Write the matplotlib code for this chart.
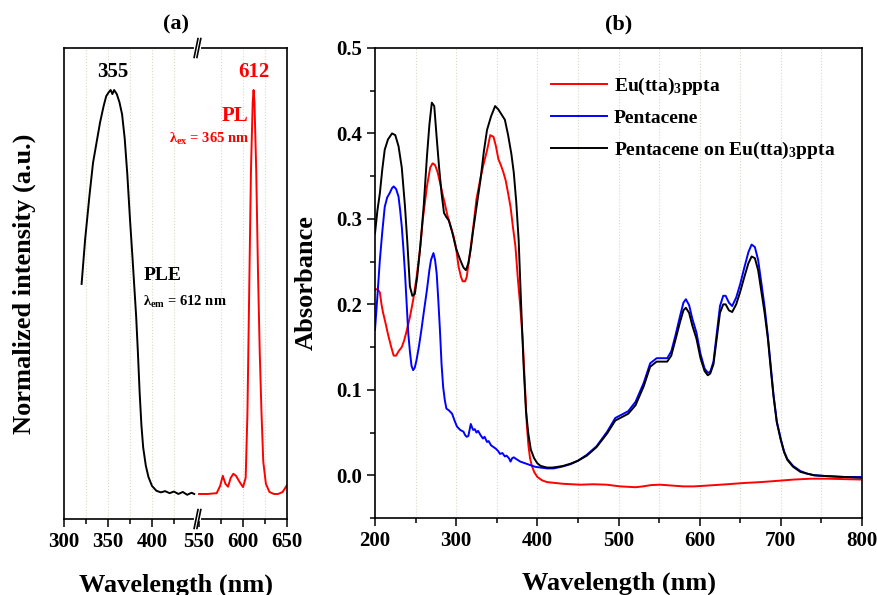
import numpy as np
import matplotlib
matplotlib.use('Agg')
import matplotlib.pyplot as plt
import matplotlib.transforms as mtransforms

plt.rcParams['font.family'] = ['Liberation Serif', 'DejaVu Serif']
plt.rcParams['font.weight'] = 'bold'
plt.rcParams['axes.labelweight'] = 'bold'
plt.rcParams['axes.titleweight'] = 'bold'
plt.rcParams['mathtext.fontset'] = 'custom'
plt.rcParams['mathtext.rm'] = 'Liberation Serif:bold'
plt.rcParams['mathtext.it'] = 'Liberation Serif:bold'
plt.rcParams['mathtext.bf'] = 'Liberation Serif:bold'
plt.rcParams['mathtext.default'] = 'bf'

# ---- (a) PLE / PL (normalized) ----
ple_wl = [320, 324, 329, 333, 337, 341, 345, 348, 351, 353, 355, 357, 360, 363,
          366, 369, 372, 375, 378, 380, 382, 384, 386, 388, 390, 393, 396, 400,
          405, 410, 415, 420, 425, 430, 435, 440, 445, 448]
ple_int = [0.52, 0.63, 0.74, 0.82, 0.87, 0.92, 0.96, 0.985, 0.995, 1.0, 0.99, 1.0,
           0.99, 0.97, 0.94, 0.88, 0.79, 0.68, 0.58, 0.51, 0.44, 0.35, 0.25, 0.17,
           0.115, 0.07, 0.042, 0.02, 0.008, 0.004, 0.007, 0.002, 0.006, 0.0,
           0.005, -0.002, 0.003, 0.0]

pl_wl = [550, 560, 570, 574, 577, 580, 583, 586, 589, 592, 596, 600, 603, 605,
         607, 609, 611, 612, 613, 615, 617, 619, 621, 623, 626, 630, 635, 640,
         645, 650]
pl_int = [0.0, 0.0, 0.002, 0.02, 0.045, 0.025, 0.018, 0.04, 0.05, 0.045, 0.03,
          0.017, 0.04, 0.2, 0.5, 0.8, 0.97, 1.0, 0.97, 0.8, 0.55, 0.35, 0.2,
          0.08, 0.025, 0.005, 0.0, 0.0, 0.005, 0.022]

a_ticks = [300, 350, 400, 550, 600, 650]
a_minor = [325, 375, 425, 575, 625]
break_gap = 96.5  # axis break 450 -> 550

# ---- (b) absorbance ----
blk_wl = [200, 203, 206, 209, 212, 216, 221, 225, 229, 233, 237, 240, 243, 246,
          249, 252, 256, 260, 264, 267, 270, 273, 276, 279, 282, 285, 288, 291,
          295, 300, 305, 309, 312, 315, 318, 321, 326, 330, 334, 338, 343, 348,
          352, 356, 360, 364, 368, 371, 374, 377, 380, 383, 386, 389, 392, 396,
          400, 404, 408, 412, 418, 424, 432, 441, 450, 461, 473, 486, 496, 504,
          512, 521, 531, 539, 547, 555, 560, 565, 570, 576, 580, 583, 587, 591,
          596, 601, 606, 610, 613, 617, 621, 625, 629, 632, 636, 640, 645, 650,
          655, 660, 664, 668, 672, 676, 680, 684, 688, 691, 695, 700, 704, 708,
          715, 724, 732, 741, 757, 778, 800]
blk_abs = [0.283, 0.31, 0.33, 0.358, 0.381, 0.393, 0.40, 0.398, 0.385, 0.36,
           0.314, 0.27, 0.221, 0.21, 0.212, 0.232, 0.27, 0.315, 0.373, 0.41,
           0.436, 0.432, 0.395, 0.36, 0.33, 0.307, 0.302, 0.298, 0.285, 0.265,
           0.252, 0.243, 0.24, 0.248, 0.265, 0.287, 0.32, 0.346, 0.378, 0.404,
           0.42, 0.432, 0.428, 0.422, 0.416, 0.398, 0.376, 0.354, 0.32, 0.275,
           0.2, 0.13, 0.075, 0.048, 0.03, 0.02, 0.014, 0.011, 0.01, 0.009, 0.009,
           0.0097, 0.011, 0.0136, 0.017, 0.023, 0.033, 0.049, 0.064, 0.068,
           0.072, 0.082, 0.104, 0.127, 0.133, 0.133, 0.133, 0.14, 0.158, 0.18,
           0.193, 0.196, 0.19, 0.175, 0.16, 0.137, 0.122, 0.117, 0.119, 0.13,
           0.16, 0.19, 0.2, 0.2, 0.193, 0.191, 0.2, 0.215, 0.232, 0.248, 0.256,
           0.254, 0.24, 0.215, 0.19, 0.16, 0.12, 0.092, 0.062, 0.041, 0.027,
           0.018, 0.01, 0.004, 0.002, 0.0, -0.001, -0.002, -0.003]

blu_wl = [200, 203, 206, 209, 212, 215, 218, 221, 223, 226, 229, 231, 233, 235,
          237, 239, 241, 243, 245, 247, 249, 251, 254, 257, 260, 264, 267, 269,
          272, 274, 276, 278, 280, 282, 284, 286, 288, 291, 295, 298, 301, 305,
          309, 311, 313, 315, 317, 318, 320, 321, 323, 325, 327, 330, 333, 335,
          338, 340, 343, 346, 349, 352, 354, 357, 360, 362, 365, 367, 369, 371,
          374, 379, 385, 391, 397, 404, 412, 420, 430, 441, 450, 461, 473, 486,
          496, 504, 512, 521, 531, 539, 547, 555, 560, 565, 570, 576, 580, 583,
          587, 591, 596, 601, 606, 610, 613, 617, 621, 625, 629, 632, 636, 640,
          645, 650, 655, 660, 664, 668, 672, 676, 680, 684, 688, 691, 695, 700,
          704, 708, 715, 724, 732, 741, 757, 778, 800]
blu_abs = [0.17, 0.21, 0.252, 0.285, 0.314, 0.325, 0.33, 0.336, 0.338, 0.335,
           0.326, 0.31, 0.291, 0.265, 0.236, 0.2, 0.166, 0.145, 0.128, 0.123,
           0.126, 0.134, 0.15, 0.169, 0.19, 0.217, 0.24, 0.252, 0.26, 0.252,
           0.236, 0.205, 0.17, 0.13, 0.103, 0.088, 0.078, 0.076, 0.072, 0.064,
           0.057, 0.053, 0.051, 0.047, 0.045, 0.046, 0.055, 0.06, 0.055, 0.053,
           0.054, 0.05, 0.052, 0.047, 0.043, 0.045, 0.039, 0.04, 0.035, 0.033,
           0.031, 0.028, 0.025, 0.026, 0.022, 0.023, 0.02, 0.016, 0.02, 0.021,
           0.019, 0.016, 0.014, 0.012, 0.01, 0.009, 0.008, 0.008, 0.01, 0.013,
           0.017, 0.024, 0.034, 0.051, 0.067, 0.071, 0.075, 0.086, 0.108, 0.131,
           0.137, 0.137, 0.137, 0.145, 0.163, 0.187, 0.202, 0.206, 0.199, 0.183,
           0.167, 0.142, 0.125, 0.12, 0.121, 0.133, 0.165, 0.198, 0.21, 0.21,
           0.202, 0.198, 0.208, 0.224, 0.243, 0.261, 0.27, 0.267, 0.252, 0.225,
           0.197, 0.163, 0.123, 0.094, 0.063, 0.042, 0.028, 0.019, 0.011, 0.005,
           0.002, 0.0, -0.001, -0.002, -0.002]

red_wl = [200, 203, 206, 208, 210, 213, 216, 220, 223, 226, 229, 233, 236, 239,
          243, 247, 251, 255, 259, 264, 268, 271, 274, 277, 280, 283, 286, 289,
          293, 297, 300, 303, 306, 308, 311, 313, 317, 321, 325, 330, 334, 338,
          342, 346, 349, 352, 355, 358, 361, 364, 367, 370, 373, 376, 379, 382,
          385, 387, 389, 391, 393, 396, 400, 406, 412, 422, 432, 453, 469, 485,
          502, 512, 521, 530, 540, 551, 565, 580, 593, 610, 634, 655, 675, 696,
          716, 737, 757, 778, 800]
red_abs = [0.217, 0.218, 0.214, 0.2, 0.19, 0.178, 0.165, 0.15, 0.14, 0.14,
           0.145, 0.15, 0.158, 0.169, 0.185, 0.205, 0.23, 0.26, 0.3, 0.338,
           0.36, 0.365, 0.363, 0.355, 0.343, 0.33, 0.318, 0.305, 0.292, 0.279,
           0.265, 0.244, 0.232, 0.227, 0.227, 0.232, 0.26, 0.29, 0.323, 0.348,
           0.365, 0.38, 0.398, 0.396, 0.385, 0.37, 0.363, 0.355, 0.345, 0.33,
           0.314, 0.29, 0.268, 0.23, 0.197, 0.158, 0.1, 0.06, 0.035, 0.02, 0.012,
           0.004, -0.002, -0.006, -0.008, -0.009, -0.01, -0.011, -0.0105, -0.011,
           -0.013, -0.0135, -0.014, -0.013, -0.0115, -0.011, -0.012, -0.013,
           -0.013, -0.012, -0.0105, -0.009, -0.008, -0.0065, -0.005, -0.004,
           -0.004, -0.0045, -0.005]

labels_b = [r'Eu(tta)$_3$ppta', 'Pentacene', r'Pentacene on Eu(tta)$_3$ppta']


def a_pos(wl):
    wl = np.asarray(wl, dtype=float)
    return np.where(wl >= 550, wl - break_gap, wl)


fig = plt.figure(figsize=(8.78, 5.95), dpi=100)
ax1 = fig.add_axes([0.0729, 0.1277, 0.254, 0.7916])
ax2 = fig.add_axes([0.4271, 0.1294, 0.5547, 0.79])

gridkw = dict(color='#d9d9c8', ls=':', lw=0.8, zorder=0)

# panel a
for g in [325, 350, 375, 400, 425, 575, 600, 625]:
    ax1.axvline(a_pos(g), **gridkw)
ax1.plot(a_pos(ple_wl), ple_int, color='black', lw=1.4)
ax1.plot(a_pos(pl_wl), pl_int, color='red', lw=1.4)
ax1.set_xlim(300, 650 - break_gap)
ax1.set_ylim(-0.062, 1.104)
ax1.set_xticks(a_pos(a_ticks))
ax1.set_xticklabels([str(t) for t in a_ticks])
ax1.set_xticks(a_pos(a_minor), minor=True)
ax1.set_yticks([])
ax1.tick_params(axis='x', which='major', direction='out', length=6, width=1.1,
                labelsize=15, pad=3)
ax1.tick_params(axis='x', which='minor', direction='out', length=3.5, width=1.1)
for s in ax1.spines.values():
    s.set_linewidth(1.2)

# break marks
xb = 451.7
tr = mtransforms.blended_transform_factory(ax1.transData, ax1.transAxes)
for yb in [0.0, 1.0]:
    ax1.plot([xb - 1.5, xb + 1.5], [yb, yb], color='white', lw=3,
             transform=tr, clip_on=False, zorder=5)
    for dx in [-1.6, 1.6]:
        ax1.plot([xb + dx - 2.2, xb + dx + 2.2], [yb - 0.02, yb + 0.02],
                 color='black', lw=1.2, transform=tr, clip_on=False, zorder=6)

ax1.text(355, 1.02, '355', ha='center', va='bottom', fontsize=15)
ax1.text(a_pos(612), 1.02, '612', ha='center', va='bottom', fontsize=15,
         color='red')
ax1.text(a_pos(606), 0.935, 'PL', ha='right', va='center', fontsize=15,
         color='red')
ax1.text(a_pos(607), 0.88, r'λ$_{ex}$ = 365 nm', ha='right', va='center',
         fontsize=10.5, color='red')
ax1.text(390, 0.54, 'PLE', ha='left', va='center', fontsize=14)
ax1.text(390, 0.475, r'λ$_{em}$ = 612 nm', ha='left', va='center',
         fontsize=10.5)

ax1.set_title('(a)', fontsize=16, pad=13)
ax1.set_xlabel('Wavelength (nm)', fontsize=19)
ax1.set_ylabel('Normalized intensity (a.u.)', fontsize=19)
ax1.xaxis.set_label_coords(0.5, -0.115)
ax1.yaxis.set_label_coords(-0.125, 0.5)

# panel b
for g in np.arange(250, 800, 50):
    ax2.axvline(g, **gridkw)
ax2.plot(red_wl, red_abs, color='red', lw=1.4, label=labels_b[0])
ax2.plot(blu_wl, blu_abs, color='blue', lw=1.4, label=labels_b[1])
ax2.plot(blk_wl, blk_abs, color='black', lw=1.4, label=labels_b[2])
ax2.set_xlim(200, 800)
ax2.set_ylim(-0.05, 0.5)
ax2.set_xticks([200, 300, 400, 500, 600, 700, 800])
ax2.set_xticks(np.arange(250, 800, 100), minor=True)
ax2.set_yticks([0.0, 0.1, 0.2, 0.3, 0.4, 0.5])
ax2.set_yticks([-0.05, 0.05, 0.15, 0.25, 0.35, 0.45], minor=True)
ax2.yaxis.set_major_formatter(matplotlib.ticker.FormatStrFormatter('%.1f'))
ax2.tick_params(which='major', direction='out', length=6, width=1.1,
                labelsize=15, pad=3)
ax2.tick_params(which='minor', direction='out', length=3.5, width=1.1)
for s in ax2.spines.values():
    s.set_linewidth(1.2)

ax2.legend(loc='upper left', bbox_to_anchor=(0.345, 0.958), frameon=False,
           fontsize=14, handlelength=2.9, handletextpad=0.35,
           labelspacing=0.65, borderaxespad=0)

ax2.set_title('(b)', fontsize=16, pad=13)
ax2.set_xlabel('Wavelength (nm)', fontsize=19)
ax2.set_ylabel('Absorbance', fontsize=19)
ax2.xaxis.set_label_coords(0.5, -0.115)
ax2.yaxis.set_label_coords(-0.117, 0.5)

fig.savefig('out.png', dpi=100)
